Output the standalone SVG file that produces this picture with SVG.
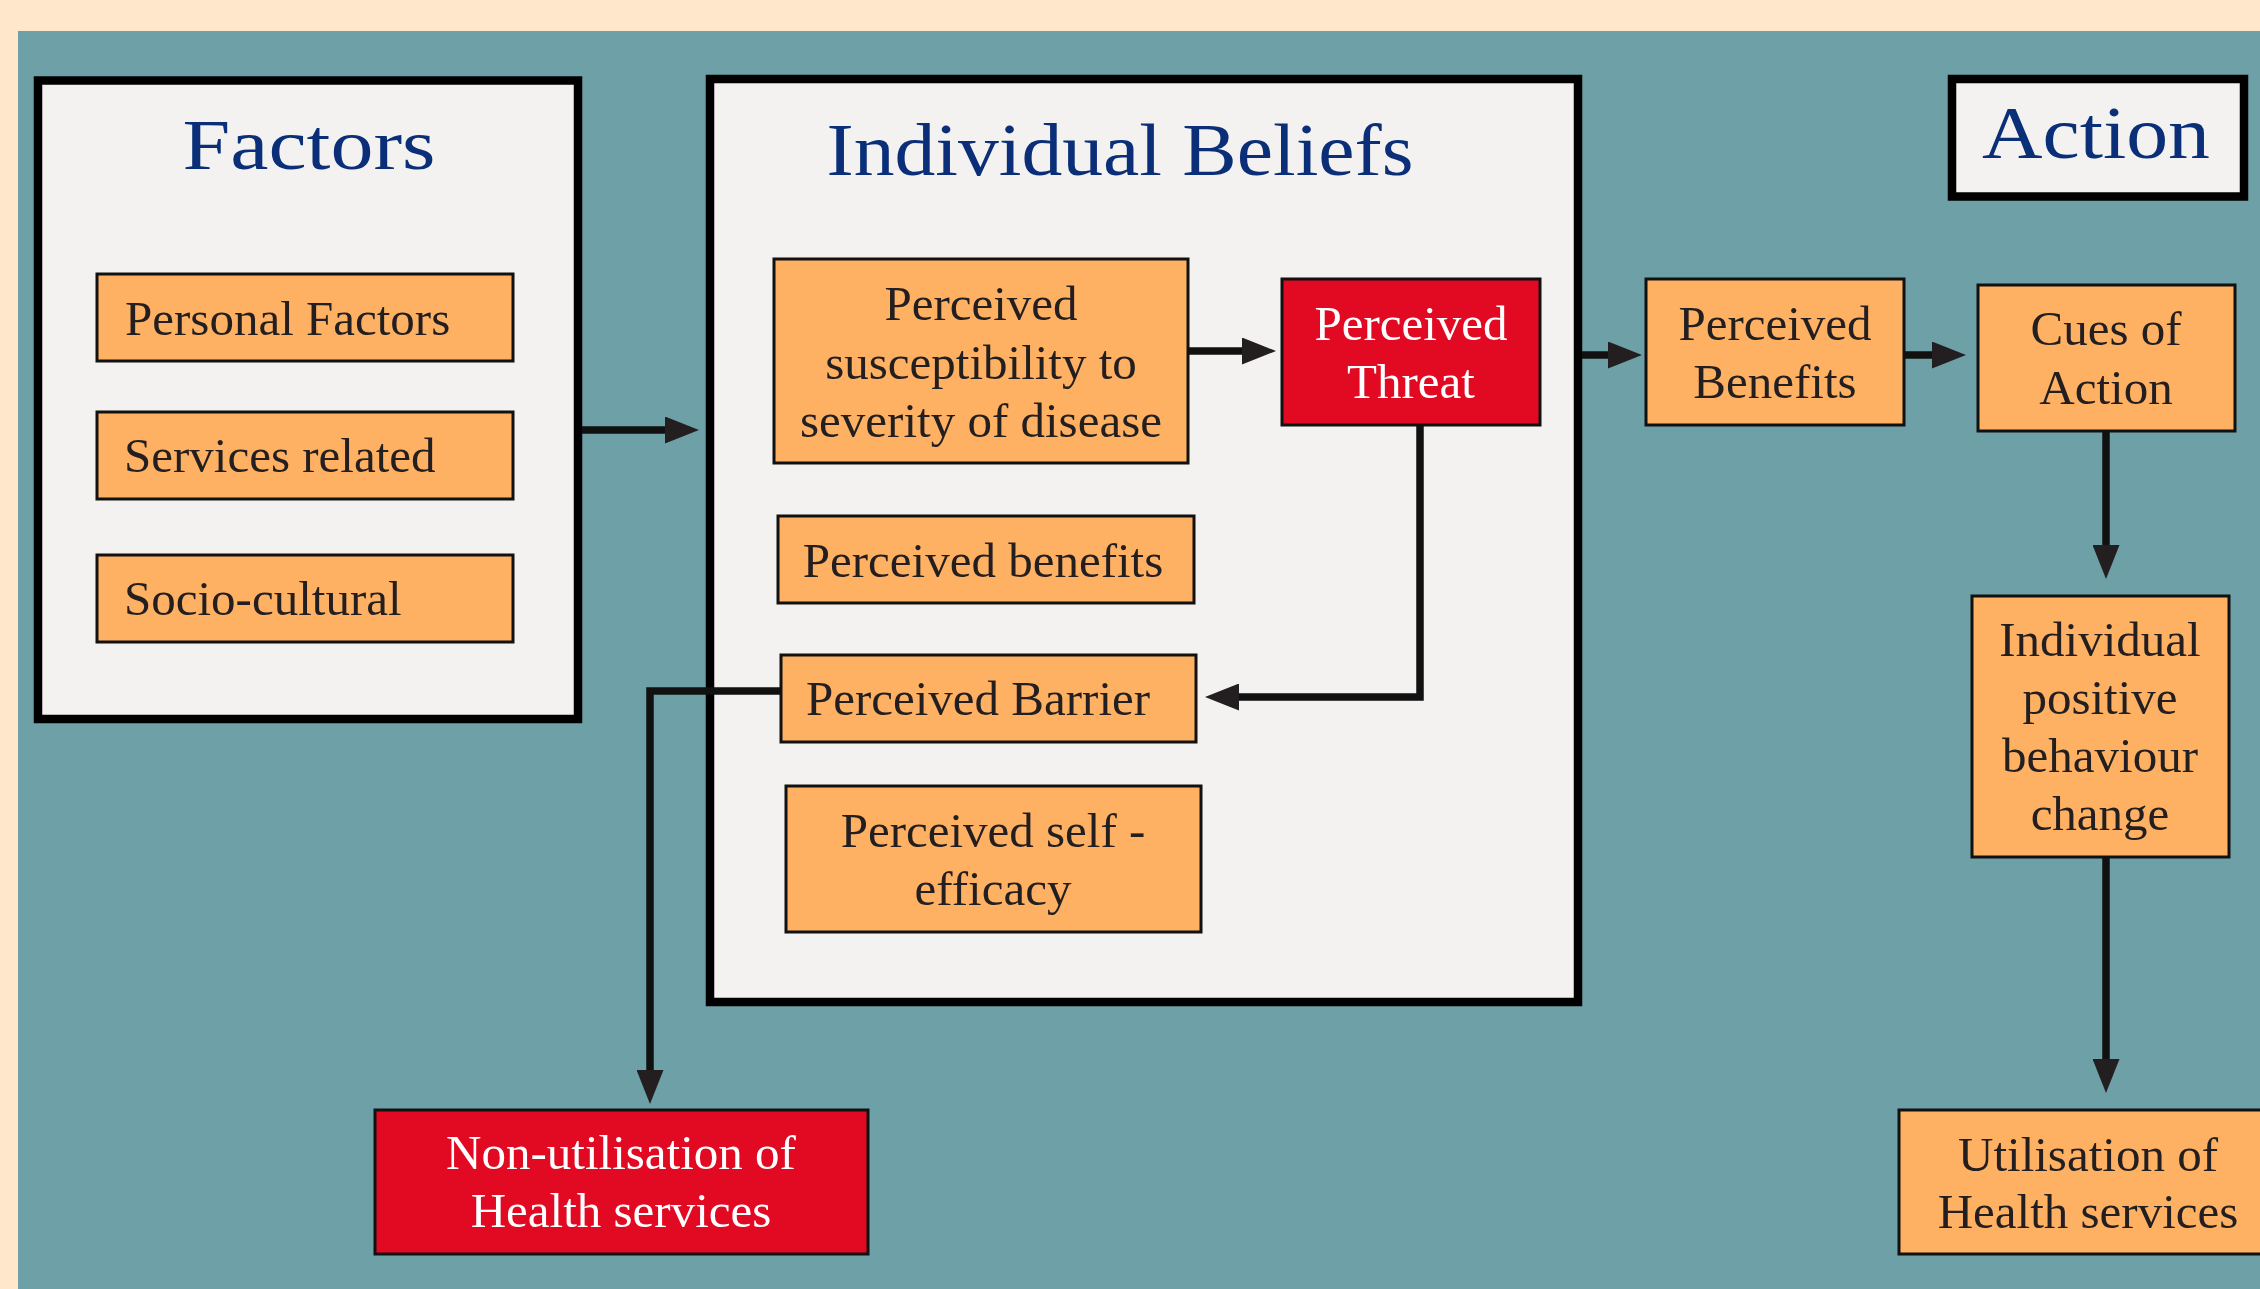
<svg xmlns="http://www.w3.org/2000/svg" width="2260" height="1289" viewBox="0 0 2260 1289">
<defs>
<style>
.panel{fill:#F3F2F0;stroke:#000;stroke-width:8.5}
.ob{fill:#FFB163;stroke:#111;stroke-width:3}
.rb{fill:#E10A22;stroke:#111;stroke-width:3}
.title{font-family:"Liberation Serif",serif;fill:#0A2F78;text-anchor:middle}
.t{font-family:"Liberation Serif",serif;font-size:49px;fill:#231F20;text-anchor:middle}
.w{fill:#FFFFFF}
.s{text-anchor:start}
.conn{fill:none;stroke:#111;stroke-width:7.5;stroke-linejoin:miter}
</style>
<marker id="ah" viewBox="0 0 34 27" refX="0" refY="13.5" markerWidth="34" markerHeight="27" markerUnits="userSpaceOnUse" orient="auto">
<path d="M0,0 L34,13.5 L0,27 Z" fill="#231F20"/>
</marker>
</defs>
<rect x="0" y="0" width="2260" height="1289" fill="#FEE7CB"/>
<rect x="18" y="31" width="2242" height="1258" fill="#6EA0A7"/>

<g id="factors">
<rect class="panel" x="38" y="80.5" width="540" height="638.5"/>
<text class="title" x="309" y="169" font-size="72" textLength="253" lengthAdjust="spacingAndGlyphs">Factors</text>
</g>
<g id="personal-factors">
<rect class="ob" x="97" y="274" width="416" height="87"/>
<text class="t s" x="125" y="335">Personal Factors</text>
</g>
<g id="services-related">
<rect class="ob" x="97" y="412" width="416" height="87"/>
<text class="t s" x="124" y="472">Services related</text>
</g>
<g id="socio-cultural">
<rect class="ob" x="97" y="555" width="416" height="87"/>
<text class="t s" x="124" y="615">Socio-cultural</text>
</g>

<g id="individual-beliefs">
<rect class="panel" x="710" y="79" width="868" height="923"/>
<text class="title" x="1120" y="175" font-size="73" textLength="587" lengthAdjust="spacingAndGlyphs">Individual Beliefs</text>
</g>
<g id="perceived-susceptibility">
<rect class="ob" x="774" y="259" width="414" height="204"/>
<text class="t" x="981" y="320">Perceived</text>
<text class="t" x="981" y="379">susceptibility to</text>
<text class="t" x="981" y="437">severity of disease</text>
</g>
<g id="perceived-threat">
<rect class="rb" x="1282" y="279" width="258" height="146"/>
<text class="t w" x="1411" y="340">Perceived</text>
<text class="t w" x="1411" y="398">Threat</text>
</g>
<g id="perceived-benefits-inner">
<rect class="ob" x="778" y="516" width="416" height="87"/>
<text class="t" x="983" y="577">Perceived benefits</text>
</g>
<g id="perceived-barrier">
<rect class="ob" x="781" y="655" width="415" height="87"/>
<text class="t" x="978" y="715">Perceived Barrier</text>
</g>
<g id="perceived-self-efficacy">
<rect class="ob" x="786" y="786" width="415" height="146"/>
<text class="t" x="993" y="847">Perceived self -</text>
<text class="t" x="993" y="905">efficacy</text>
</g>

<g id="action">
<rect class="panel" x="1952" y="79" width="292" height="117.5"/>
<text class="title" x="2096" y="158" font-size="74" textLength="228" lengthAdjust="spacingAndGlyphs">Action</text>
</g>
<g id="perceived-benefits">
<rect class="ob" x="1646" y="279" width="258" height="146"/>
<text class="t" x="1775" y="340">Perceived</text>
<text class="t" x="1775" y="398">Benefits</text>
</g>
<g id="cues-of-action">
<rect class="ob" x="1978" y="285" width="257" height="146"/>
<text class="t" x="2106" y="345">Cues of</text>
<text class="t" x="2106" y="404">Action</text>
</g>
<g id="individual-positive-behaviour-change">
<rect class="ob" x="1972" y="596" width="257" height="261"/>
<text class="t" x="2100" y="656">Individual</text>
<text class="t" x="2100" y="714">positive</text>
<text class="t" x="2100" y="772">behaviour</text>
<text class="t" x="2100" y="830">change</text>
</g>
<g id="utilisation">
<rect class="ob" x="1899" y="1110" width="365" height="144"/>
<text class="t" x="2088" y="1171">Utilisation of</text>
<text class="t" x="2088" y="1228">Health services</text>
</g>
<g id="non-utilisation">
<rect class="rb" x="375" y="1110" width="493" height="144"/>
<text class="t w" x="621" y="1169">Non-utilisation of</text>
<text class="t w" x="621" y="1227">Health services</text>
</g>

<g id="connectors">
<path class="conn" d="M582 430 H665" marker-end="url(#ah)"/>
<path class="conn" d="M1188 351 H1242" marker-end="url(#ah)"/>
<path class="conn" d="M1420 425 V697 H1239" marker-end="url(#ah)"/>
<path class="conn" d="M781 691 H650 V1070" marker-end="url(#ah)"/>
<path class="conn" d="M1582 355 H1608" marker-end="url(#ah)"/>
<path class="conn" d="M1904 355 H1932" marker-end="url(#ah)"/>
<path class="conn" d="M2106 431 V545" marker-end="url(#ah)"/>
<path class="conn" d="M2106 857 V1059" marker-end="url(#ah)"/>
</g>
</svg>
